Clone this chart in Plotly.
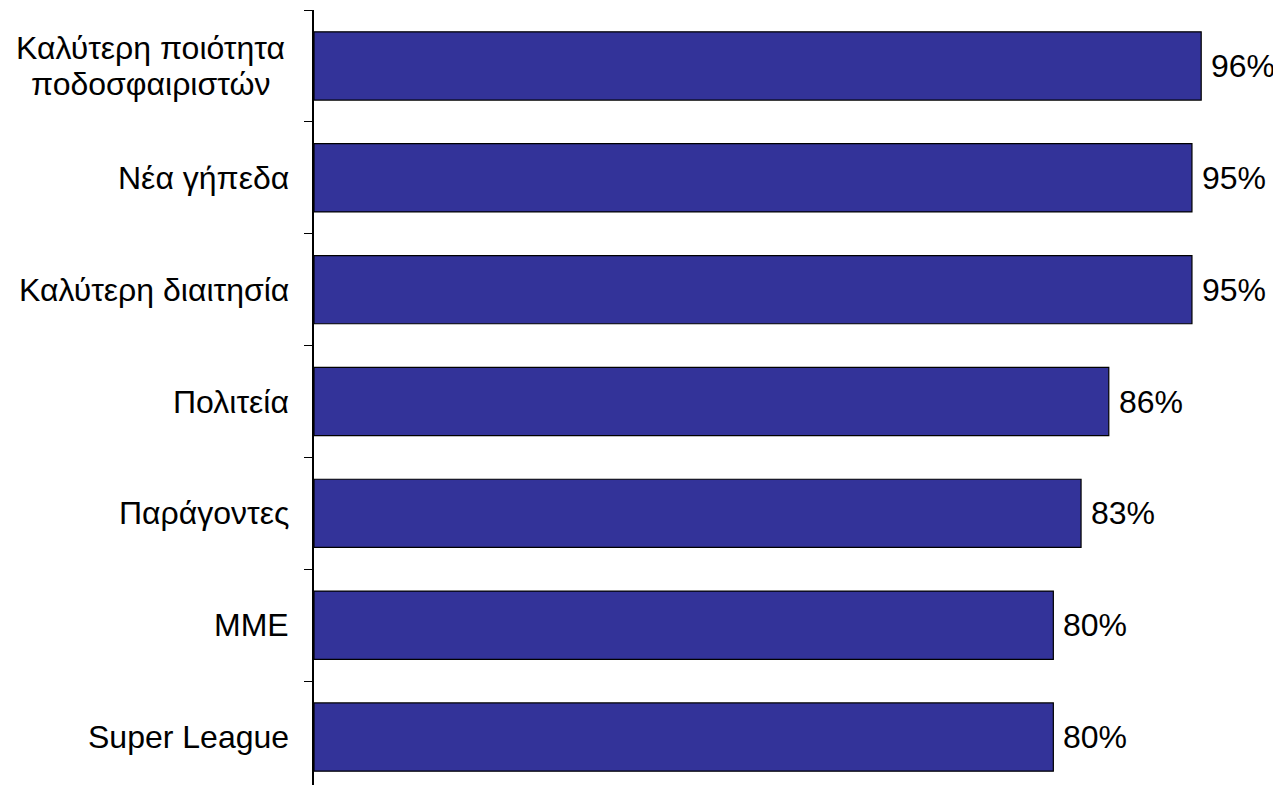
import plotly.graph_objects as go

categories = ["Καλύτερη ποιότητα<br>ποδοσφαιριστών", "Νέα γήπεδα", "Καλύτερη διαιτησία",
              "Πολιτεία", "Παράγοντες", "ΜΜΕ", "Super League"]
values = [96, 95, 95, 86, 83, 80, 80]
value_labels = ["96%", "95%", "95%", "86%", "83%", "80%", "80%"]

FONT = "Liberation Sans, Arial, sans-serif"
FS = 32

# bottom-to-top order for plotly
cats_bt = categories[::-1]
vals_bt = values[::-1]
labs_bt = value_labels[::-1]

fig = go.Figure()
fig.add_trace(go.Bar(
    y=cats_bt, x=vals_bt, orientation="h",
    width=0.61,
    marker=dict(color="#333399", line=dict(color="black", width=1.2)),
    hoverinfo="skip",
))

annotations = []
for c, v, t in zip(cats_bt, vals_bt, labs_bt):
    annotations.append(dict(x=v, y=c, xref="x", yref="y", text=t, showarrow=False,
                            xanchor="left", xshift=8, font=dict(family=FONT, size=FS, color="black")))
    lines = c.split("<br>")
    if len(lines) == 1:
        annotations.append(dict(x=0, y=c, xref="paper", yref="y", text=c, showarrow=False,
                                xanchor="right", xshift=-23,
                                font=dict(family=FONT, size=FS, color="black")))
    else:
        n = len(lines)
        for i, ln in enumerate(lines):
            annotations.append(dict(x=-0.168, y=c, xref="paper", yref="y", text=ln, showarrow=False,
                                    xanchor="center", yshift=(n - 1) * 18 - i * 36,
                                    font=dict(family=FONT, size=FS, color="black")))

fig.update_layout(
    width=1281, height=785,
    margin=dict(l=306, r=0, t=2, b=0),
    paper_bgcolor="white", plot_bgcolor="white",
    showlegend=False,
    annotations=annotations,
    xaxis=dict(range=[0, 105.5], visible=False, showgrid=False, zeroline=False),
    yaxis=dict(type="category", categoryorder="array", categoryarray=cats_bt,
               range=[-0.5, 6.5], showticklabels=False, showgrid=False, zeroline=False,
               showline=True, linecolor="black", linewidth=1.5,
               ticks="outside", tickson="boundaries", ticklen=8, tickwidth=1.2, tickcolor="black"),
)

fig.write_html("out.html")
